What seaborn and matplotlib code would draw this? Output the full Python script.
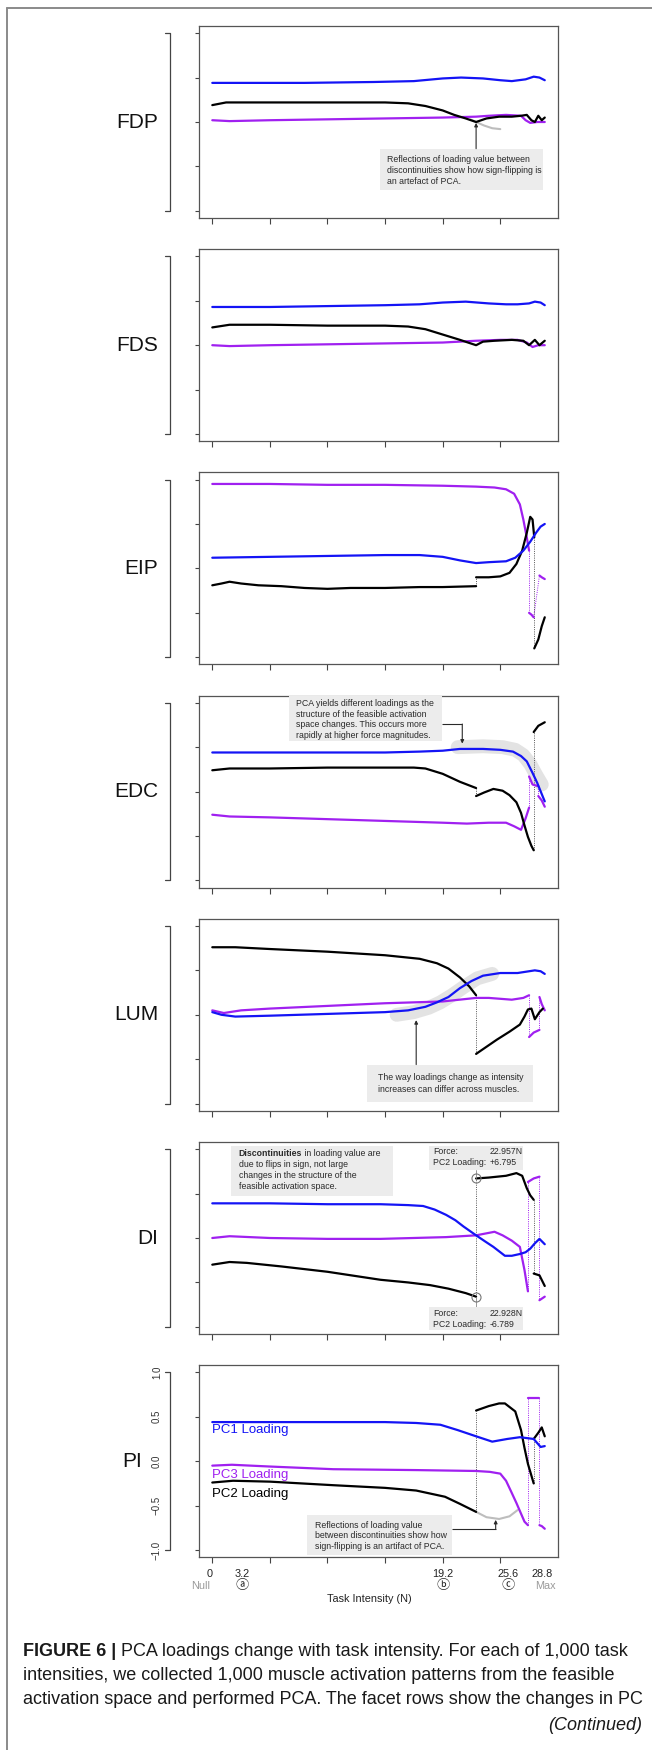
import matplotlib
matplotlib.use("Agg")
import matplotlib.pyplot as plt
import matplotlib.transforms as mtransforms
from matplotlib.lines import Line2D
from matplotlib.patches import Rectangle
import seaborn as sns
import numpy as np

# ---- data (force in N vs PC loading) ----
muscles = ['FDP', 'FDS', 'EIP', 'EDC', 'LUM', 'DI', 'PI']

FDP_PC1_X = [0, 3, 8, 14, 17.5, 20, 21.6, 23.5, 25, 26, 27.2, 27.9, 28.4, 28.86]
FDP_PC1_Y = [0.44, 0.44, 0.44, 0.45, 0.46, 0.49, 0.50, 0.49, 0.47, 0.46, 0.48, 0.51, 0.50, 0.47]
FDP_PC2_X = [0, 1.2, 5, 10, 15, 17, 18.5, 20, 21, 22, 22.9, 23.8, 24.9, 26, 26.8, 27.3, 27.7, 28.0, 28.3, 28.6, 28.86]
FDP_PC2_Y = [0.19, 0.22, 0.22, 0.22, 0.22, 0.21, 0.18, 0.13, 0.08, 0.04, 0.0, 0.04, 0.06, 0.06, 0.07, 0.08, 0.02, 0.0, 0.07, 0.02, 0.05]
FDP_PC3_X = [0, 1.5, 5, 10, 15, 20, 22.9, 24, 25.5, 26.8, 27.2, 27.6, 28.2, 28.86]
FDP_PC3_Y = [0.02, 0.01, 0.02, 0.03, 0.04, 0.05, 0.06, 0.07, 0.08, 0.07, 0.02, -0.01, 0.0, 0.0]
FDP_REF_X = [22.4, 22.9, 23.6, 24.3, 25.0]
FDP_REF_Y = [0.03, 0.0, -0.04, -0.07, -0.08]

FDS_PC1_X = [0, 5, 10, 15, 18, 20, 22, 24, 25.5, 26.5, 27.5, 28.0, 28.5, 28.86]
FDS_PC1_Y = [0.43, 0.43, 0.44, 0.45, 0.46, 0.48, 0.49, 0.47, 0.46, 0.46, 0.47, 0.49, 0.48, 0.45]
FDS_PC2_X = [0, 1.5, 5, 10, 15, 17, 18.5, 20, 21.5, 22.9, 23.5, 24.5, 26, 27, 27.5, 28.0, 28.4, 28.86]
FDS_PC2_Y = [0.20, 0.23, 0.23, 0.22, 0.22, 0.21, 0.18, 0.12, 0.06, 0.0, 0.04, 0.05, 0.06, 0.05, 0.0, 0.06, 0.0, 0.05]
FDS_PC3_X = [0, 1.5, 5, 10, 15, 20, 22.9, 25, 26.5, 27.3, 27.8, 28.3, 28.86]
FDS_PC3_Y = [0.0, -0.01, 0.0, 0.01, 0.02, 0.03, 0.05, 0.06, 0.06, 0.03, -0.02, 0.0, 0.0]

EIP_PC1_X = [0, 5, 10, 15, 18, 20, 21.5, 22.9, 24, 25.5, 26.3, 27, 27.6, 28.1, 28.5, 28.86]
EIP_PC1_Y = [0.12, 0.13, 0.14, 0.15, 0.15, 0.13, 0.09, 0.06, 0.07, 0.08, 0.12, 0.2, 0.3, 0.4, 0.47, 0.5]
EIP_PC2A_X = [0, 0.8, 1.5, 2.5, 4, 6, 8, 10, 12, 15, 18, 20, 22.9]
EIP_PC2A_Y = [-0.19, -0.17, -0.15, -0.17, -0.19, -0.2, -0.22, -0.23, -0.22, -0.22, -0.21, -0.21, -0.2]
EIP_PC2B_X = [22.9, 24, 25, 25.8, 26.4, 26.9, 27.3, 27.6, 27.8, 27.95]
EIP_PC2B_Y = [-0.1, -0.1, -0.09, -0.05, 0.05, 0.2, 0.4, 0.58, 0.55, 0.35]
EIP_PC2C_X = [27.95, 28.3, 28.6, 28.86]
EIP_PC2C_Y = [-0.9, -0.8, -0.65, -0.55]
EIP_PC3A_X = [0, 5, 10, 15, 20, 22.9, 24.5, 25.5, 26.2, 26.7, 27.0, 27.3, 27.5]
EIP_PC3A_Y = [0.95, 0.95, 0.94, 0.94, 0.93, 0.92, 0.91, 0.89, 0.84, 0.72, 0.55, 0.35, 0.2]
EIP_PC3B_X = [27.5, 27.7, 27.9]
EIP_PC3B_Y = [-0.5, -0.52, -0.55]
EIP_PC3C_X = [28.4, 28.6, 28.86]
EIP_PC3C_Y = [-0.08, -0.1, -0.12]

EDC_PC1_X = [0, 5, 10, 15, 18, 20, 21.5, 23.5, 25, 26.1, 26.8, 27.3, 27.8, 28.2, 28.7, 28.86]
EDC_PC1_Y = [0.44, 0.44, 0.44, 0.44, 0.45, 0.46, 0.48, 0.48, 0.47, 0.45, 0.40, 0.34, 0.21, 0.10, -0.06, -0.11]
EDC_BAND_X = [21.3, 23.5, 25.2, 26.3, 27.0, 27.6, 28.1, 28.6]
EDC_BAND_Y = [0.50, 0.51, 0.50, 0.47, 0.41, 0.31, 0.19, 0.08]
EDC_PC2A_X = [0, 1.5, 5, 10, 15, 17.5, 18.5, 20, 21.5, 22.9]
EDC_PC2A_Y = [0.24, 0.26, 0.26, 0.27, 0.27, 0.27, 0.26, 0.2, 0.11, 0.04]
EDC_PC2B_X = [22.9, 23.6, 24.4, 25.2, 25.8, 26.4, 26.8, 27.1, 27.4, 27.7, 27.9]
EDC_PC2B_Y = [-0.05, -0.01, 0.03, 0.01, -0.04, -0.12, -0.24, -0.38, -0.51, -0.61, -0.66]
EDC_PC2C_X = [27.9, 28.3, 28.86]
EDC_PC2C_Y = [0.67, 0.74, 0.78]
EDC_PC3A_X = [0, 1.5, 5, 10, 15, 20, 22.1, 24, 25.5, 26.2, 26.8, 27.2, 27.5]
EDC_PC3A_Y = [-0.26, -0.28, -0.29, -0.31, -0.33, -0.35, -0.36, -0.35, -0.35, -0.39, -0.43, -0.3, -0.18]
EDC_PC3B_X = [27.5, 27.8, 28.3]
EDC_PC3B_Y = [0.17, 0.08, 0.06]
EDC_PC3C_X = [28.3, 28.6, 28.86]
EDC_PC3C_Y = [-0.05, -0.1, -0.17]

LUM_PC1_X = [0, 0.8, 2, 5, 10, 15, 17, 18.5, 19.5, 20.5, 21.5, 22.5, 23.5, 25, 26.5, 27.5, 28.0, 28.5, 28.86]
LUM_PC1_Y = [0.03, 0.0, -0.02, -0.01, 0.01, 0.03, 0.05, 0.09, 0.14, 0.2, 0.3, 0.38, 0.44, 0.47, 0.47, 0.49, 0.50, 0.49, 0.46]
LUM_BAND_X = [16.0, 17.5, 18.8, 19.8, 20.8, 21.8, 23.0, 24.3]
LUM_BAND_Y = [0.0, 0.03, 0.08, 0.14, 0.22, 0.31, 0.41, 0.46]
LUM_PC2A_X = [0, 2, 5, 10, 15, 18, 19.5, 20.5, 21.5, 22.3, 22.9]
LUM_PC2A_Y = [0.76, 0.76, 0.74, 0.71, 0.67, 0.63, 0.58, 0.52, 0.42, 0.32, 0.22]
LUM_PC2B_X = [22.9, 23.8, 24.7, 25.8, 26.7, 27.1, 27.4, 27.7, 28.0, 28.4, 28.7]
LUM_PC2B_Y = [-0.44, -0.36, -0.28, -0.19, -0.11, -0.02, 0.06, 0.07, -0.05, 0.03, 0.07]
LUM_PC3A_X = [0, 1, 2.5, 5, 10, 15, 20, 22.9, 24, 26, 27.0, 27.5]
LUM_PC3A_Y = [0.05, 0.02, 0.05, 0.07, 0.1, 0.13, 0.15, 0.19, 0.19, 0.17, 0.19, 0.22]
LUM_PC3B_X = [27.5, 27.9, 28.4]
LUM_PC3B_Y = [-0.25, -0.2, -0.17]
LUM_PC3C_X = [28.4, 28.6, 28.86]
LUM_PC3C_Y = [0.2, 0.12, 0.05]

DI_PC1_X = [0, 5, 10, 14.6, 17, 18.3, 19.3, 20.3, 21.1, 21.8, 22.9, 23.7, 24.4, 25.4, 26.0, 26.7, 27.2, 27.6, 28.0, 28.4, 28.86]
DI_PC1_Y = [0.39, 0.39, 0.38, 0.38, 0.37, 0.36, 0.32, 0.26, 0.2, 0.13, 0.03, -0.04, -0.1, -0.2, -0.2, -0.18, -0.16, -0.12, -0.06, -0.01, -0.07]
DI_PC2A_X = [0, 1.5, 3, 6, 10, 14.6, 17, 18.9, 20.5, 22, 22.9]
DI_PC2A_Y = [-0.3, -0.27, -0.28, -0.32, -0.38, -0.47, -0.5, -0.53, -0.57, -0.62, -0.66]
DI_PC2B_X = [22.9, 24, 25.5, 26.4, 26.9, 27.3, 27.6, 27.9]
DI_PC2B_Y = [0.67, 0.68, 0.70, 0.73, 0.70, 0.56, 0.48, 0.43]
DI_PC2C_X = [27.9, 28.4, 28.86]
DI_PC2C_Y = [-0.40, -0.42, -0.54]
DI_PC3A_X = [0, 1.5, 5, 10, 14.6, 20.3, 22.9, 24.5, 25.2, 26.0, 26.7, 27.1, 27.4]
DI_PC3A_Y = [0.0, 0.02, 0.0, -0.01, -0.01, 0.01, 0.03, 0.07, 0.03, -0.03, -0.1, -0.36, -0.60]
DI_PC3B_X = [27.4, 27.9, 28.4]
DI_PC3B_Y = [0.63, 0.67, 0.69]
DI_PC3C_X = [28.4, 28.86]
DI_PC3C_Y = [-0.70, -0.66]

PI_PC1_X = [0, 5, 10, 15, 17.7, 19.8, 21.3, 22.9, 24.3, 25.6, 26.7, 27.9, 28.5, 28.86]
PI_PC1_Y = [0.44, 0.44, 0.44, 0.44, 0.43, 0.41, 0.35, 0.28, 0.22, 0.25, 0.27, 0.25, 0.16, 0.17]
PI_PC2A_X = [0, 1.8, 5, 10.5, 15, 17.7, 20.2, 21.5, 22.9]
PI_PC2A_Y = [-0.24, -0.22, -0.23, -0.27, -0.3, -0.33, -0.4, -0.48, -0.57]
PI_PC2B_X = [22.9, 24.0, 24.9, 25.4, 26.3, 26.8, 27.1, 27.4, 27.9]
PI_PC2B_Y = [0.57, 0.62, 0.65, 0.65, 0.56, 0.35, 0.15, -0.03, -0.25]
PI_PC2C_X = [27.9, 28.3, 28.6, 28.86]
PI_PC2C_Y = [0.25, 0.32, 0.38, 0.28]
PI_REF_X = [22.9, 23.8, 24.9, 25.8, 26.5]
PI_REF_Y = [-0.57, -0.63, -0.65, -0.62, -0.55]
PI_PC3A_X = [0, 1.7, 5, 10.5, 17.7, 22.9, 24.1, 25.0, 25.5, 25.9, 26.4, 26.8, 27.1, 27.4]
PI_PC3A_Y = [-0.05, -0.04, -0.06, -0.09, -0.1, -0.11, -0.12, -0.14, -0.22, -0.33, -0.47, -0.59, -0.68, -0.72]
PI_PC3B_X = [27.4, 27.9, 28.4]
PI_PC3B_Y = [0.71, 0.71, 0.71]
PI_PC3C_X = [28.4, 28.6, 28.86]
PI_PC3C_Y = [-0.72, -0.73, -0.76]

# DI flip points (force, loading)
DI_FLIP_X = [22.9, 22.9]
DI_FLIP_Y = [0.67, -0.66]

# axis labels
x_ticks = [0, 5, 10, 15, 20, 25]
y_ticks = [-1, -0.5, 0, 0.5, 1]
y_ticklabels = ['\u22121.0', '\u22120.5', '0.0', '0.5', '1.0']
x_labels = ['0', '3.2', '19.2', '25.6', '28.8']
x_labels_at = [-0.25, 2.6, 20.0, 25.7, 28.6]
x_sub = ['Null', '\u24d0', '\u24d1', '\u24d2', 'Max']
x_sub_at = [-1.0, 2.6, 20.0, 25.7, 28.9]
x_sub_gray = [True, False, False, False, True]

# annotation texts
fdp_note = ['Reflections of loading value between',
            'discontinuities show how sign-flipping is',
            'an artefact of PCA.']
edc_note = ['PCA yields different loadings as the',
            'structure of the feasible activation',
            'space changes. This occurs more',
            'rapidly at higher force magnitudes.']
lum_note = ['The way loadings change as intensity',
            'increases can differ across muscles.']
di_note_bold = 'Discontinuities'
di_note = [' in loading value are',
           'due to flips in sign, not large',
           'changes in the structure of the',
           'feasible activation space.']
pi_note = ['Reflections of loading value',
           'between discontinuities show how',
           'sign-flipping is an artifact of PCA.']
di_force_top = ['Force:', '22.957N', 'PC2 Loading:', '+6.795']
di_force_bot = ['Force:', '22.928N', 'PC2 Loading:', '-6.789']
legend_names = ['PC1 Loading', 'PC3 Loading', 'PC2 Loading']
legend_y = [0.35, -0.15, -0.37]

caption_bold = 'FIGURE 6 | '
caption_lines = ['PCA loadings change with task intensity. For each of 1,000 task',
                 'intensities, we collected 1,000 muscle activation patterns from the feasible',
                 'activation space and performed PCA. The facet rows show the changes in PC']
caption_cont = '(Continued)'

# ---- per panel tables built from the lists above ----
panels = {
    'FDP': dict(pc1=[(FDP_PC1_X, FDP_PC1_Y)], pc2=[(FDP_PC2_X, FDP_PC2_Y)], pc3=[(FDP_PC3_X, FDP_PC3_Y)],
                refl=[(FDP_REF_X, FDP_REF_Y)]),
    'FDS': dict(pc1=[(FDS_PC1_X, FDS_PC1_Y)], pc2=[(FDS_PC2_X, FDS_PC2_Y)], pc3=[(FDS_PC3_X, FDS_PC3_Y)]),
    'EIP': dict(pc1=[(EIP_PC1_X, EIP_PC1_Y)],
                pc2=[(EIP_PC2A_X, EIP_PC2A_Y), (EIP_PC2B_X, EIP_PC2B_Y), (EIP_PC2C_X, EIP_PC2C_Y)],
                pc3=[(EIP_PC3A_X, EIP_PC3A_Y), (EIP_PC3B_X, EIP_PC3B_Y), (EIP_PC3C_X, EIP_PC3C_Y)]),
    'EDC': dict(pc1=[(EDC_PC1_X, EDC_PC1_Y)],
                pc2=[(EDC_PC2A_X, EDC_PC2A_Y), (EDC_PC2B_X, EDC_PC2B_Y), (EDC_PC2C_X, EDC_PC2C_Y)],
                pc3=[(EDC_PC3A_X, EDC_PC3A_Y), (EDC_PC3B_X, EDC_PC3B_Y), (EDC_PC3C_X, EDC_PC3C_Y)],
                band=[(EDC_BAND_X, EDC_BAND_Y)]),
    'LUM': dict(pc1=[(LUM_PC1_X, LUM_PC1_Y)],
                pc2=[(LUM_PC2A_X, LUM_PC2A_Y), (LUM_PC2B_X, LUM_PC2B_Y)],
                pc3=[(LUM_PC3A_X, LUM_PC3A_Y), (LUM_PC3B_X, LUM_PC3B_Y), (LUM_PC3C_X, LUM_PC3C_Y)],
                band=[(LUM_BAND_X, LUM_BAND_Y)]),
    'DI': dict(pc1=[(DI_PC1_X, DI_PC1_Y)],
               pc2=[(DI_PC2A_X, DI_PC2A_Y), (DI_PC2B_X, DI_PC2B_Y), (DI_PC2C_X, DI_PC2C_Y)],
               pc3=[(DI_PC3A_X, DI_PC3A_Y), (DI_PC3B_X, DI_PC3B_Y), (DI_PC3C_X, DI_PC3C_Y)]),
    'PI': dict(pc1=[(PI_PC1_X, PI_PC1_Y)],
               pc2=[(PI_PC2A_X, PI_PC2A_Y), (PI_PC2B_X, PI_PC2B_Y), (PI_PC2C_X, PI_PC2C_Y)],
               pc3=[(PI_PC3A_X, PI_PC3A_Y), (PI_PC3B_X, PI_PC3B_Y), (PI_PC3C_X, PI_PC3C_Y)],
               refl=[(PI_REF_X, PI_REF_Y)]),
}

# ---- style ----
W, H = 652, 1750
BOX_L, BOX_W, BOX_H = 199, 359, 192
TOP0, STEP = 26, 223.2
BLUE, PURPLE, BLACK = '#1414f5', '#a020f0', '#000000'
REFL, BAND, BOXFILL, AXC, TXT = '#bdbdbd', '#e3e3e3', '#ececec', '#444444', '#2a2a2a'
NARROW = ['Liberation Sans Narrow', 'Liberation Sans', 'DejaVu Sans']
NOTE_FS = 6.3

sns.set_style("ticks")
plt.rcParams['font.family'] = ['Liberation Sans', 'DejaVu Sans']

fig = plt.figure(figsize=(W / 100, H / 100), dpi=100)
renderer = fig.canvas.get_renderer()

# outer frame (left + top)
fig.add_artist(Line2D([7 / W, 7 / W], [0, 1 - 8 / H], transform=fig.transFigure, color='#8a8a8a', lw=1.4))
fig.add_artist(Line2D([7 / W, 1], [1 - 8 / H, 1 - 8 / H], transform=fig.transFigure, color='#8a8a8a', lw=1.4))


def draw(ax, x, y, color, lw=1.5, z=3):
    sns.lineplot(x=np.array(x), y=np.array(y), ax=ax, color=color, linewidth=lw,
                 sort=False, estimator=None, legend=False, zorder=z)


def note(ax, x0, x1, y0, y1, lines, tx, ty, dy, size=NOTE_FS):
    ax.add_patch(Rectangle((x0, y1), x1 - x0, y0 - y1, facecolor=BOXFILL, edgecolor='none', zorder=4))
    for i, t in enumerate(lines):
        ax.text(tx, ty - i * dy, t, ha='left', va='center', fontsize=size, color=TXT,
                family=NARROW, zorder=5)


def arrow(ax, xs, ys):
    ax.plot(xs[:-1], ys[:-1], color=TXT, lw=0.8, zorder=5, solid_capstyle='butt')
    ax.annotate('', xy=(xs[-1], ys[-1]), xytext=(xs[-2], ys[-2]), zorder=5,
                arrowprops=dict(arrowstyle='-|>', color=TXT, lw=0.8, mutation_scale=5,
                                shrinkA=0, shrinkB=0))


axes = {}
for k, m in enumerate(muscles):
    top = TOP0 + k * STEP
    ax = fig.add_axes([BOX_L / W, 1 - (top + BOX_H) / H, BOX_W / W, BOX_H / H])
    axes[m] = ax
    spec = panels[m]
    for bx, by in spec.get('band', []):
        draw(ax, bx, by, BAND, lw=10, z=1)
    for rx, ry in spec.get('refl', []):
        draw(ax, rx, ry, REFL, lw=1.5, z=2)
    for key, col in [('pc3', PURPLE), ('pc2', BLACK), ('pc1', BLUE)]:
        segs = spec[key]
        for i, (sx, sy) in enumerate(segs):
            draw(ax, sx, sy, col, lw=1.6, z=3)
            if i > 0:
                px, py = segs[i - 1]
                ax.plot([px[-1], sx[0]], [py[-1], sy[0]], ls=(0, (1, 1.3)), lw=0.7,
                        color=PURPLE if key == 'pc3' else '#555555', zorder=2)
    ax.set_xlim(-1.154, 30.01)
    ax.set_ylim(-1.08, 1.08)
    ax.set_xticks(x_ticks)
    ax.set_yticks(y_ticks)
    ax.set_xticklabels([])
    ax.set_yticklabels([])
    ax.set_xlabel('')
    ax.set_ylabel('')
    ax.tick_params(axis='x', direction='out', length=4.3, width=0.8, color=AXC)
    ax.tick_params(axis='y', direction='out', length=2.8, width=0.8, color=AXC)
    for s in ax.spines.values():
        s.set_visible(True)
        s.set_color('#555555')
        s.set_linewidth(0.9)

    trans = mtransforms.blended_transform_factory(fig.transFigure, ax.transData)
    ax.plot([165 / W, 170 / W, 170 / W, 165 / W], [1, 1, -1, -1], transform=trans,
            clip_on=False, color=AXC, lw=0.9)
    lab_x = 142 if m == 'PI' else 158
    ax.text(lab_x / W, 0, m, transform=trans, ha='right', va='center', fontsize=15, color='#111111')

# ---- panel annotations ----
ax = axes['FDP']
note(ax, 14.6, 28.7, -0.30, -0.77, fdp_note, 15.2, -0.42, 0.125)
arrow(ax, [22.9, 22.9], [-0.30, -0.01])

ax = axes['EDC']
note(ax, 6.7, 19.9, 1.07, 0.57, edc_note, 7.3, 0.99, 0.118)
arrow(ax, [19.9, 21.7, 21.7], [0.76, 0.76, 0.54])

ax = axes['LUM']
note(ax, 13.4, 27.8, -0.56, -0.98, lum_note, 14.4, -0.71, 0.125)
arrow(ax, [17.7, 17.7], [-0.56, -0.06])

ax = axes['DI']
ax.add_patch(Rectangle((1.6, 0.47), 14.1, 0.56, facecolor=BOXFILL, edgecolor='none', zorder=4))
tb = ax.text(2.3, 0.95, di_note_bold, ha='left', va='center', fontsize=NOTE_FS, color=TXT,
             family=NARROW, weight='bold', zorder=5)
bb = tb.get_window_extent(renderer=renderer)
x_after = ax.transData.inverted().transform((bb.x1, bb.y0))[0]
ax.text(x_after, 0.95, di_note[0], ha='left', va='center', fontsize=NOTE_FS, color=TXT, family=NARROW, zorder=5)
for i, t in enumerate(di_note[1:]):
    ax.text(2.3, 0.95 - (i + 1) * 0.125, t, ha='left', va='center', fontsize=NOTE_FS, color=TXT,
            family=NARROW, zorder=5)
for (ya, yb, yl1, yl2, vals) in [(1.03, 0.77, 0.97, 0.85, di_force_top), (-0.78, -1.04, -0.85, -0.97, di_force_bot)]:
    ax.add_patch(Rectangle((18.8, yb), 8.2, ya - yb, facecolor=BOXFILL, edgecolor='none', zorder=4))
    ax.text(19.2, yl1, vals[0], ha='left', va='center', fontsize=NOTE_FS, color=TXT, family=NARROW, zorder=5)
    ax.text(24.1, yl1, vals[1], ha='left', va='center', fontsize=NOTE_FS, color=TXT, family=NARROW, zorder=5)
    ax.text(19.2, yl2, vals[2], ha='left', va='center', fontsize=NOTE_FS, color=TXT, family=NARROW, zorder=5)
    ax.text(24.1, yl2, vals[3], ha='left', va='center', fontsize=NOTE_FS, color=TXT, family=NARROW, zorder=5)
ax.plot([DI_FLIP_X[0], DI_FLIP_X[1]], [0.77, DI_FLIP_Y[0]], color='#888888', lw=0.6, zorder=3)
ax.plot([DI_FLIP_X[0], DI_FLIP_X[1]], [DI_FLIP_Y[1], -0.78], color='#888888', lw=0.6, zorder=3)
ax.plot(DI_FLIP_X, DI_FLIP_Y, ls='none', marker='o', ms=6.5, mfc='none', mec='#777777', mew=0.8, zorder=6)

ax = axes['PI']
note(ax, 8.2, 20.8, -0.61, -1.06, pi_note, 8.9, -0.72, 0.12)
arrow(ax, [20.8, 24.6, 24.6], [-0.76, -0.76, -0.66])
for name, yy, col in zip(legend_names, legend_y, [BLUE, PURPLE, BLACK]):
    ax.text(0, yy, name, ha='left', va='center', fontsize=9.5, color=col)

# bottom axis labels
trans_y = mtransforms.blended_transform_factory(fig.transFigure, ax.transData)
for t, yy in zip(y_ticklabels, y_ticks):
    ax.text(157 / W, yy, t, transform=trans_y, rotation=90, ha='center', va='center',
            fontsize=7, color='#333333')
trans_x = mtransforms.blended_transform_factory(ax.transData, fig.transFigure)
for t, xx in zip(x_labels, x_labels_at):
    ax.text(xx, 1 - 1574 / H, t, transform=trans_x, ha='center', va='center', fontsize=7.8, color='#222222')
for t, xx, g in zip(x_sub, x_sub_at, x_sub_gray):
    ax.text(xx, 1 - 1586 / H, t, transform=trans_x, ha='center', va='center',
            fontsize=7.8 if g else 9.5,
            color='#9a9a9a' if g else '#222222',
            family=['Liberation Sans', 'Noto Sans CJK JP', 'DejaVu Sans'])
fig.text(369 / W, 1 - 1599 / H, 'Task Intensity (N)', ha='center', va='center', fontsize=7.8, color='#222222')

# caption
cap_size = 13
tb = fig.text(23 / W, 1 - 1652 / H, caption_bold, ha='left', va='center', fontsize=cap_size,
              weight='bold', color='#1a1a1a')
bb = tb.get_window_extent(renderer=renderer)
fig.text(bb.x1 / W, 1 - 1652 / H, caption_lines[0], ha='left', va='center', fontsize=cap_size, color='#1a1a1a')
fig.text(23 / W, 1 - 1676 / H, caption_lines[1], ha='left', va='center', fontsize=cap_size, color='#1a1a1a')
fig.text(23 / W, 1 - 1700 / H, caption_lines[2], ha='left', va='center', fontsize=cap_size, color='#1a1a1a')
fig.text(642 / W, 1 - 1725 / H, caption_cont, ha='right', va='center', fontsize=cap_size,
         style='italic', color='#1a1a1a')

fig.savefig('out.png', dpi=100)
